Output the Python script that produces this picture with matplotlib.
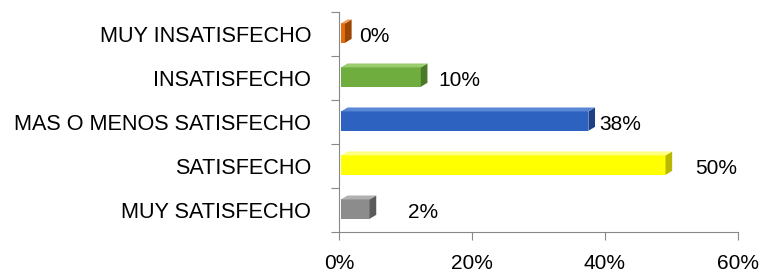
import matplotlib
matplotlib.use('Agg')
import matplotlib.pyplot as plt
from matplotlib.patches import Polygon
import numpy as np

categories = ['MUY SATISFECHO', 'SATISFECHO', 'MAS O MENOS SATISFECHO',
              'INSATISFECHO', 'MUY INSATISFECHO']
# bar lengths as drawn in the picture (%), and the printed data labels
bar_lengths = [4.3, 48.8, 37.2, 12.0, 0.6]
value_labels = ['2%', '50%', '38%', '10%', '0%']
label_x = [10.4, 53.5, 39.2, 15.0, 3.0]

front = ['#8c8c8c', '#ffff00', '#2e62c0', '#70ad3f', '#e46c0a']
side = ['#5a5a5a', '#b8b800', '#1c3f86', '#4a7a28', '#9c4605']
top = ['#b0b0b0', '#ffff80', '#5a86d6', '#98cc6c', '#f29a52']

plt.rcParams['font.family'] = ['Liberation Sans', 'DejaVu Sans']

fig = plt.figure(figsize=(7.63, 2.76), dpi=100)
ax = fig.add_axes([339/763, 1-232/276, 399/763, 220/276])

h = 0.44
dx, dy = 1.0, 0.09
y = np.arange(len(categories)) + 0.02
ax.barh(y, bar_lengths, height=h, left=0.3, color=front,
        edgecolor='none', zorder=2)
for i, v in enumerate(bar_lengths):
    x0, x1 = 0.3, 0.3 + v
    y0, y1 = y[i] - h/2, y[i] + h/2
    ax.add_patch(Polygon([(x1, y0), (x1 + dx, y0 + dy), (x1 + dx, y1 + dy), (x1, y1)],
                         closed=True, facecolor=side[i], edgecolor='none', zorder=3))
    ax.add_patch(Polygon([(x0, y1), (x0 + dx, y1 + dy), (x1 + dx, y1 + dy), (x1, y1)],
                         closed=True, facecolor=top[i], edgecolor='none', zorder=3))
    ax.text(label_x[i], y[i] - 0.08, value_labels[i], fontsize=15,
            va='center', ha='left', color='black')

ax.set_xlim(0, 60)
ax.set_ylim(-0.5, 4.5)
ax.set_xticks([0, 20, 40, 60])
ax.set_xticklabels(['0%', '20%', '40%', '60%'], fontsize=15)
ax.set_yticks(np.arange(-0.5, 5, 1))
ax.set_yticklabels([])
ax.set_yticks(np.arange(len(categories)), minor=True)
ax.set_yticklabels(categories, minor=True, fontsize=15.6)
ax.tick_params(axis='y', which='minor', length=0, pad=20)
ax.tick_params(axis='y', which='major', length=6, color='#888888', direction='out')
ax.tick_params(axis='x', length=6, color='#888888', pad=10)
for s in ['top', 'right']:
    ax.spines[s].set_visible(False)
ax.spines['left'].set_color('#888888')
ax.spines['bottom'].set_color('#888888')

fig.savefig('out.png', dpi=100)
